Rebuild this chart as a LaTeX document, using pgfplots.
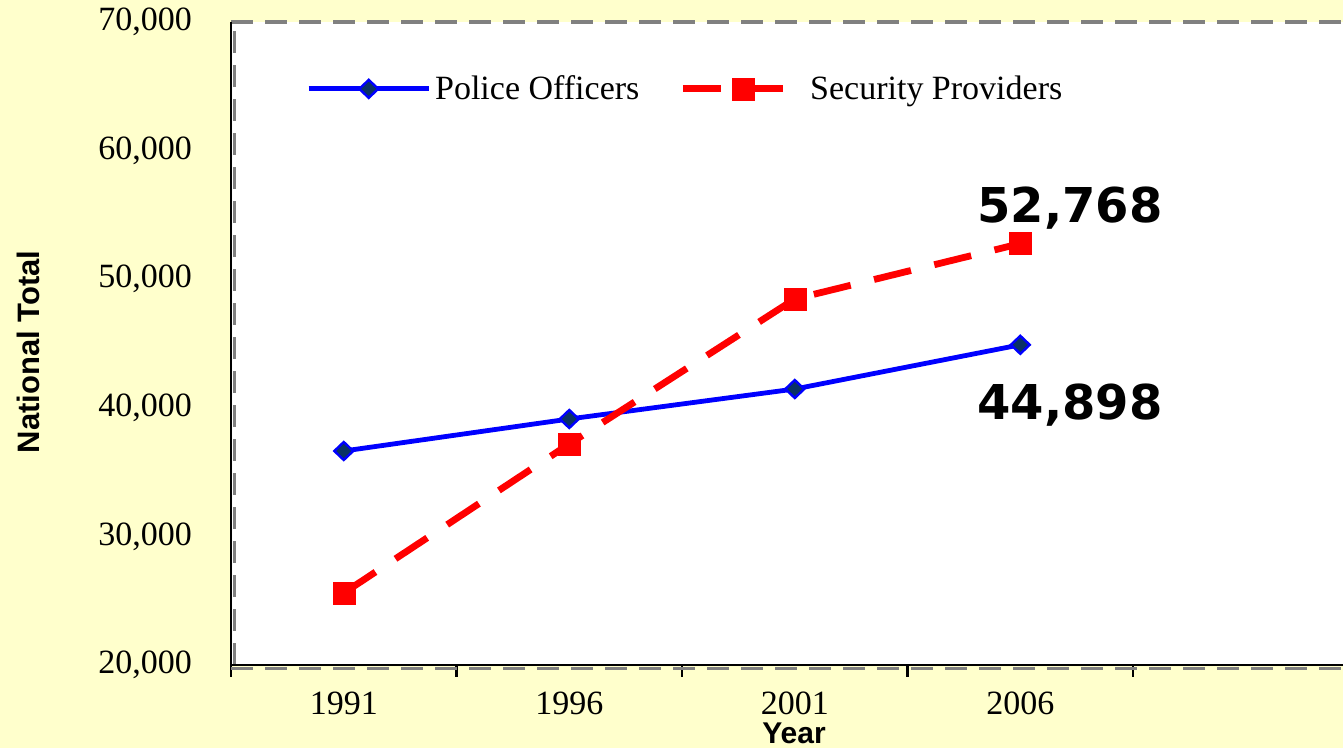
\documentclass[border=0pt]{standalone}
\usepackage{fontspec}
\setmainfont{Liberation Serif}
\newfontfamily\arialfont{Liberation Sans}
\newfontfamily\dejavu{DejaVu Sans}
\usepackage{pgfplots}
\pgfplotsset{compat=1.18}
\definecolor{bgyellow}{RGB}{255,255,204}
\definecolor{navy}{RGB}{10,50,100}
\definecolor{framegray}{RGB}{128,128,128}

\begin{document}
\begin{tikzpicture}
\fill[bgyellow, use as bounding box] (0,0) rectangle (671.5pt,374pt);
\begin{axis}[
  at={(115.5pt,41.5pt)}, anchor=south west,
  scale only axis, width=556pt, height=321.5pt,
  xmin=-0.5, xmax=4.431, ymin=20000, ymax=70000,
  axis background/.style={fill=white},
  axis line style={draw=none},
  clip=false,
  tick label style={font=\fontsize{17}{20}\selectfont},
  /pgf/number format/assume math mode=true,
  xtick pos=bottom, ytick pos=left,
  xtick={-0.5,0.5,1.5,2.5,3.5}, xticklabels={},
  x tick style={black, line width=1.1pt},
  tick align=outside, major tick length=6pt,
  extra x ticks={0,1,2,3},
  extra x tick labels={1991,1996,2001,2006},
  extra x tick style={major tick length=0pt, x tick style={draw=none}, xticklabel style={yshift=-10pt}},
  ytick={20000,30000,...,70000},
  y tick style={draw=none},
  scaled y ticks=false,
  yticklabel style={/pgf/number format/1000 sep={,}, xshift=-10pt},
  legend style={at={(0.062,0.896)}, anchor=west, draw=none, fill=none,
    legend columns=2, font=\fontsize{17}{20}\selectfont,
    /tikz/every even column/.append style={column sep=18pt}},
  legend image code/.code={\draw[mark repeat=2, mark phase=2, #1] plot coordinates {(0pt,0pt) (30pt,0pt) (60pt,0pt)};},
]
\addplot[blue, line width=2.4pt, mark=diamond*, mark size=4.5pt,
  mark options={xscale=1.4, fill=navy, draw=blue, line width=1.2pt}]
  coordinates {(0,36640) (1,39130) (2,41460) (3,44898)};
\addplot[red, line width=3.4pt, dash pattern=on 19pt off 12pt, mark=square*, mark size=5.5pt,
  mark options={solid, fill=red, draw=red, line width=0.1pt}]
  coordinates {(0,25600) (1,37190) (2,48460) (3,52768)};
\legend{Police Officers, Security Providers}
\node[font=\dejavu\bfseries\fontsize{24}{28}\selectfont] at (axis cs:3.22,55540) {52,768};
\node[font=\dejavu\bfseries\fontsize{24}{28}\selectfont] at (axis cs:3.22,40220) {44,898};
\draw[framegray, line width=2pt, dash pattern=on 11pt off 6pt] (rel axis cs:0,1) -- (rel axis cs:1,1);
\draw[framegray, line width=1.6pt, dash pattern=on 11pt off 6pt] ([xshift=1.6pt]rel axis cs:0,0) -- ([xshift=1.6pt]rel axis cs:0,1);
\draw[framegray, line width=1.6pt, dash pattern=on 11pt off 6pt] ([yshift=-1.6pt]rel axis cs:0,0) -- ([yshift=-1.6pt]rel axis cs:1,0);
\draw[black, line width=1.2pt] (rel axis cs:0,1) -- (rel axis cs:0,0) -- (rel axis cs:1,0);
\end{axis}
\node[rotate=90, font=\arialfont\bfseries\fontsize{15.5}{18}\selectfont] at (14pt,198pt) {National Total};
\node[anchor=base, inner sep=0pt, font=\arialfont\bfseries\fontsize{15}{18}\selectfont] at (397pt,2pt) {Year};
\end{tikzpicture}
\end{document}
